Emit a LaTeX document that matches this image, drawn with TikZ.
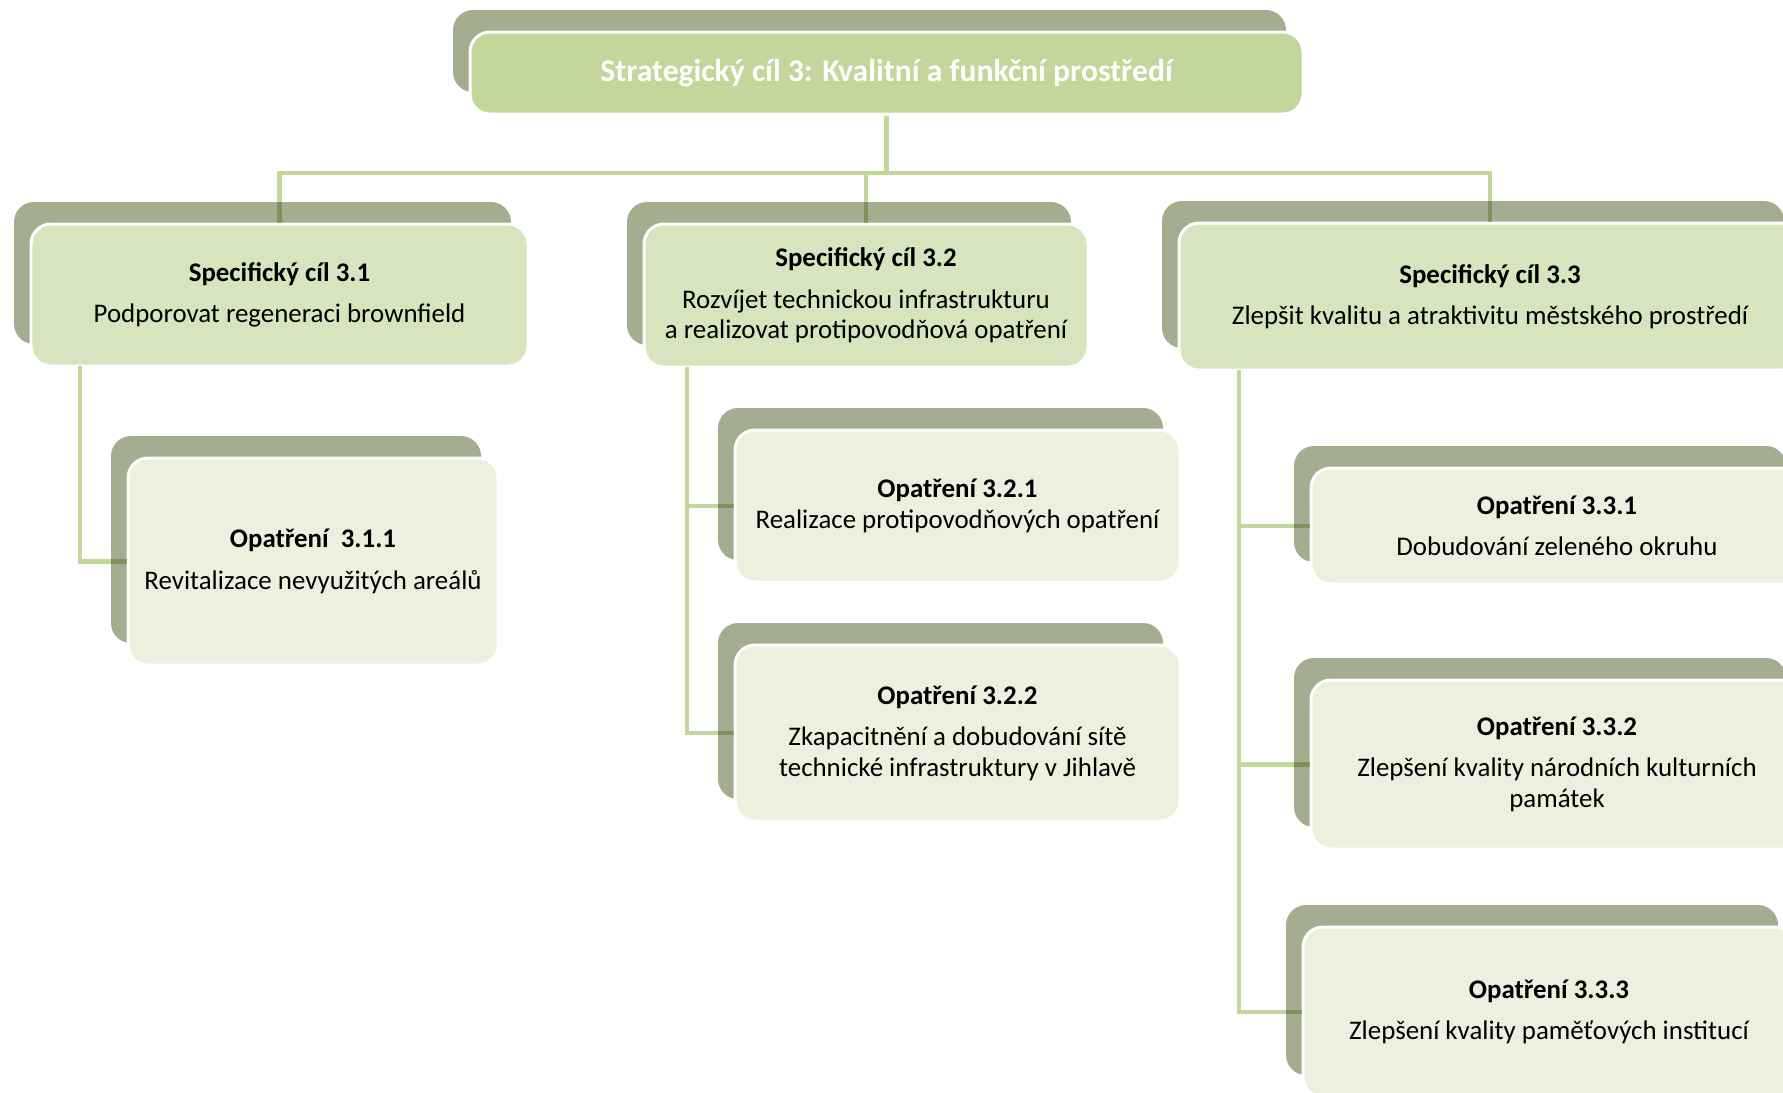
\documentclass[tikz,border=0pt]{standalone}
\usepackage{fontspec}
\setmainfont{Carlito}
\usepackage{xcolor}
\usepackage{tikz}
\usetikzlibrary{shadows,positioning}
\definecolor{rootgreen}{HTML}{C3D69B}
\definecolor{goalgreen}{HTML}{D7E4BD}
\definecolor{measuregreen}{HTML}{EBF1DE}
\definecolor{shadowgray}{HTML}{A5AD91}
\definecolor{linkgreen}{HTML}{C3D69B}
\tikzset{
  box/.style={
    draw=white, line width=1.7pt, rounded corners=0.4cm, align=center,
    font=\fontsize{15.3}{17.5}\selectfont,
    general shadow={shadow xshift=-0.34cm, shadow yshift=0.44cm, fill=shadowgray}
  }
}
\tikzset{
  rootbox/.style={box, fill=rootgreen, text=white, font=\fontsize{18}{21}\selectfont\bfseries},
  goalbox/.style={box, fill=goalgreen},
  measurebox/.style={box, fill=measuregreen},
  link/.style={draw=linkgreen, line width=0.09cm, blend mode=multiply}
}

\begin{document}
\begin{tikzpicture}
    \useasboundingbox (0,0) rectangle (35.66,-21.84);
    \clip (0,0) rectangle (35.66,-21.84);

    % Strategic goal
    \node[rootbox, minimum width=16.66cm, minimum height=1.64cm] (root) at (17.73,-1.46)
        {Strategický cíl 3: Kvalitní a funkční prostředí};

    % Specific goals
    \node[goalbox, minimum width=9.94cm, minimum height=2.84cm] (sc1) at (5.59,-5.90)
        {\textbf{Specifický cíl 3.1}\\[6pt] Podporovat regeneraci brownfield};
    \node[goalbox, minimum width=8.88cm, minimum height=2.86cm] (sc2) at (17.32,-5.91)
        {\textbf{Specifický cíl 3.2}\\[6pt] Rozvíjet technickou infrastrukturu\\ a realizovat protipovodňová opatření};
    \node[goalbox, minimum width=12.44cm, minimum height=2.94cm] (sc3) at (29.80,-5.93)
        {\textbf{Specifický cíl 3.3}\\[6pt] Zlepšit kvalitu a atraktivitu městského prostředí};

    % Measures
    \node[measurebox, minimum width=7.40cm, minimum height=4.14cm] (o311) at (6.26,-11.23)
        {\textbf{Opatření\ \ 3.1.1}\\[6pt] Revitalizace nevyužitých areálů};
    \node[measurebox, minimum width=8.90cm, minimum height=3.04cm] (o321) at (19.15,-10.12)
        {\textbf{Opatření 3.2.1}\\ Realizace protipovodňových opatření};
    \node[measurebox, minimum width=8.90cm, minimum height=3.52cm] (o322) at (19.15,-14.66)
        {\textbf{Opatření 3.2.2}\\[6pt] Zkapacitnění a dobudování sítě\\ technické infrastruktury v Jihlavě};
    \node[measurebox, minimum width=9.84cm, minimum height=2.32cm] (o331) at (31.14,-10.52)
        {\textbf{Opatření 3.3.1}\\[6pt] Dobudování zeleného okruhu};
    \node[measurebox, minimum width=9.84cm, minimum height=3.38cm] (o332) at (31.14,-15.29)
        {\textbf{Opatření 3.3.2}\\[6pt] Zlepšení kvality národních kulturních\\ památek};
    \node[measurebox, minimum width=9.84cm, minimum height=3.40cm] (o333) at (30.98,-20.24)
        {\textbf{Opatření 3.3.3}\\[6pt] Zlepšení kvality paměťových institucí};

    % Connect nodes
    \coordinate (bar) at (17.73,-3.46);
    \draw[link] (root.south) -- ([yshift=0.045cm]bar);
    \draw[link] (sc1.north) |- (bar -| sc3.north) -- (sc3.north);
    \draw[link] ([yshift=-0.045cm]bar -| sc2.north) -- (sc2.north);

    \coordinate (d1) at (1.60,-7.32);
    \coordinate (d2) at (13.74,-7.34);
    \coordinate (d3) at (24.78,-7.40);
    \draw[link] (d1) |- (o311.west);
    \draw[link] (d2) |- (o322.west);
    \draw[link] ([xshift=0.045cm]d2 |- o321.west) -- (o321.west);
    \draw[link] (d3) |- (o333.west);
    \draw[link] ([xshift=0.045cm]d3 |- o331.west) -- (o331.west);
    \draw[link] ([xshift=0.045cm]d3 |- o332.west) -- (o332.west);
\end{tikzpicture}
\end{document}
